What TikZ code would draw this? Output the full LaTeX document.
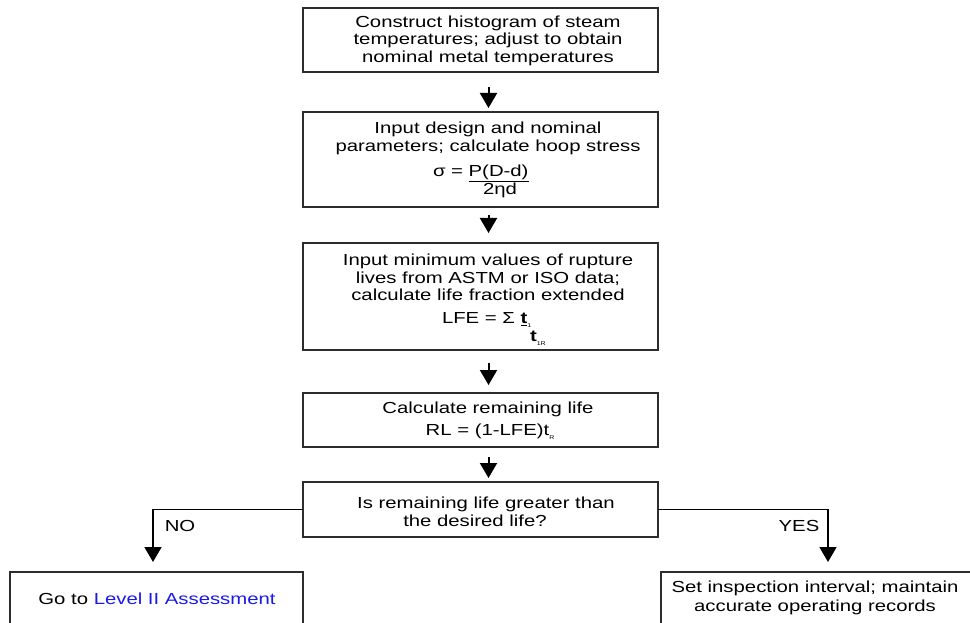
\documentclass[tikz,border=0pt]{standalone}
\usepackage{fontspec}
\setmainfont{Liberation Sans}[FakeStretch=1.27]
\usetikzlibrary{arrows.meta}
\definecolor{boxline}{RGB}{45,45,45}
\definecolor{linkblue}{RGB}{25,25,235}
% small lowered index used in the life formulas
\newcommand{\tinysub}[1]{\raisebox{-0.45ex}{\fontsize{5.5}{6}\selectfont #1}}

\begin{document}
\begin{tikzpicture}[x=1pt,y=-1pt,
  every node/.style={font=\fontsize{16}{17.5}\selectfont, inner sep=0pt, outer sep=0pt},
  stepbox/.style={draw=boxline, line width=1.3pt, minimum width=355pt, anchor=north west},
  endbox/.style={draw=boxline, line width=1.3pt, anchor=north west},
  txt/.style={align=center},
  flow/.style={line width=2pt, -{Triangle[length=15pt,width=17pt]}},
  branch/.style={line width=1.6pt, -{Triangle[length=15pt,width=17pt]}},
]
\useasboundingbox (0,0) rectangle (970,623);

% process boxes
\node[stepbox, minimum height=64pt]  (b1) at (303,8)   {};
\node[stepbox, minimum height=95pt]  (b2) at (303,112) {};
\node[stepbox, minimum height=107pt] (b3) at (303,243) {};
\node[stepbox, minimum height=54pt]  (b4) at (303,393) {};
\node[stepbox, minimum height=55pt]  (b5) at (303,482) {};
\node[endbox, minimum width=293pt, minimum height=80pt] (bl) at (10,572)  {};
\node[endbox, minimum width=330pt, minimum height=80pt] (br) at (661,572) {};

% box texts
\node[txt] (t1) at (488,40.5) {Construct histogram of steam\\temperatures; adjust to obtain\\nominal metal temperatures};
\node[txt] (t2) at (488,138.5) {Input design and nominal\\parameters; calculate hoop stress};
\node[anchor=west] (f2a) at (433,173) {σ = \underline{P(D-d)}};
\node (f2b) at (500,190) {2ηd};
\node[txt] (t3) at (488,277.5) {Input minimum values of rupture\\lives from ASTM or ISO data;\\calculate life fraction extended};
\node[anchor=west] (f3a) at (442,320) {LFE = Σ \underline{\textbf{t}}\tinysub{1}};
\node[anchor=west] (f3b) at (530,338) {\textbf{t}\tinysub{1R}};
\node[txt] (t4) at (488,409) {Calculate remaining life};
\node (f4) at (490,432) {RL = (1-LFE)t\tinysub{R}};
\node[txt] (t5) at (486,512) {Is remaining life greater than\\the desired life?\hspace*{22pt}};
\node (tl) at (157,599) {Go to \textcolor{linkblue}{Level II Assessment}};
\node[txt, font=\fontsize{16}{19}\selectfont] (tr) at (815,598) {Set inspection interval; maintain\\accurate operating records};

% main flow
\draw[flow, shorten <=15pt, shorten >=4pt]  ([xshift=8pt]b1.south) -- ([xshift=8pt]b2.north);
\draw[flow, shorten <=8pt,  shorten >=10pt] ([xshift=8pt]b2.south) -- ([xshift=8pt]b3.north);
\draw[flow, shorten <=13pt, shorten >=8pt]  ([xshift=8pt]b3.south) -- ([xshift=8pt]b4.north);
\draw[flow, shorten <=10pt, shorten >=4pt]  ([xshift=8pt]b4.south) -- ([xshift=8pt]b5.north);

% decision branches
\draw[branch, shorten >=10pt] (b5.west) -| ([xshift=-3.5pt]bl.north);
\draw[branch, shorten >=10pt] (b5.east) -| ([xshift=2pt]br.north);
\node (no)  at (180,526) {NO};
\node (yes) at (799,526) {YES};
\end{tikzpicture}
\end{document}
